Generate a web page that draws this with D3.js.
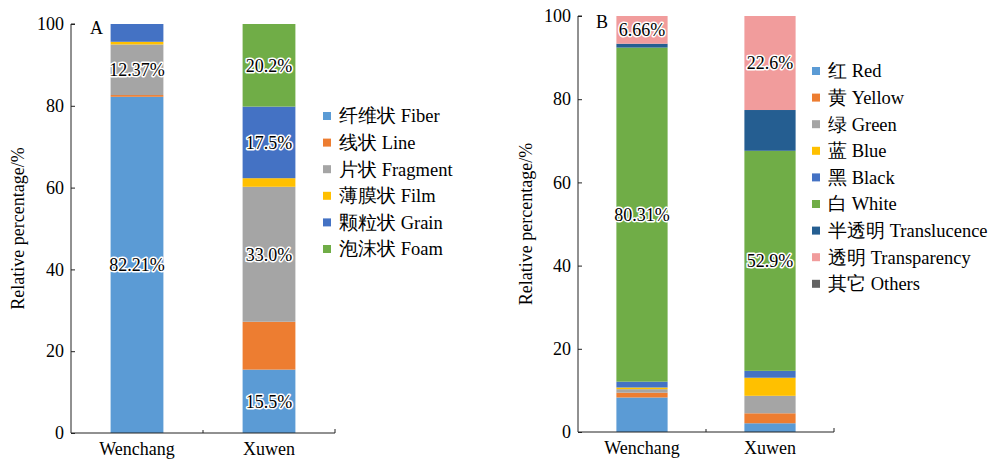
<!DOCTYPE html>
<html>
<head>
<meta charset="utf-8">
<script src="https://cdn.jsdelivr.net/npm/d3@7"></script>
<style>
  html, body { margin: 0; padding: 0; background: #fff; }
  svg { display: block; }
</style>
</head>
<body>
<svg id="chart" width="991" height="462"></svg>
<script>
// Sampling sites
const sites = ["Wenchang", "Xuwen"];

// Panel A: shape composition (%)
const shapeNames = ["纤维状 Fiber", "线状 Line", "片状 Fragment", "薄膜状 Film", "颗粒状 Grain", "泡沫状 Foam"];
const shapeWenchang = [82.21, 0.42, 12.37, 0.65, 4.35, 0];
const shapeXuwen    = [15.5, 11.7, 33.0, 2.1, 17.5, 20.2];
const shapeLabels = [
  [ "82.21%", null, "12.37%", null, null, null ],
  [ "15.5%", null, "33.0%", null, "17.5%", "20.2%" ]
];

// Panel B: colour composition (%)
const colourNames = ["红 Red", "黄 Yellow", "绿 Green", "蓝 Blue", "黑 Black", "白 White", "半透明 Translucence", "透明 Transparency", "其它 Others"];
const colourWenchang = [8.3, 1.15, 0.85, 0.4, 1.4, 80.31, 0.93, 6.66, 0];
const colourXuwen    = [2.1, 2.4, 4.2, 4.35, 1.65, 52.9, 9.8, 22.6, 0];
const colourLabels = [
  [null, null, null, null, null, "80.31%", null, "6.66%", null],
  [null, null, null, null, null, "52.9%", null, "22.6%", null]
];

const yTicks = [0, 20, 40, 60, 80, 100];

const shapeColors  = ["#5B9BD5", "#ED7D31", "#A5A5A5", "#FFC000", "#4472C4", "#70AD47"];
const colourColors = ["#5B9BD5", "#ED7D31", "#A5A5A5", "#FFC000", "#4472C4", "#70AD47", "#255E91", "#F19C9C", "#636363"];

const FONT = "'Liberation Serif', 'DejaVu Serif', serif";

const svg = d3.select("#chart").style("font-family", FONT);

function drawPanel(opts) {
  const { x0, x1, yBottom, yTop, names, colors, seriesBySite, labels, letter, letterPos, legendX, legendY, titleX } = opts;

  const x = d3.scaleBand().domain(sites).range([x0, x1]).paddingInner(0.6).paddingOuter(0.3);
  const y = d3.scaleLinear().domain([0, 100]).range([yBottom, yTop]);

  const g = svg.append("g");

  // stacked segments
  sites.forEach((site, si) => {
    const vals = seriesBySite[si];
    let acc = 0;
    vals.forEach((v, k) => {
      const lo = acc, hi = acc + v;
      acc = hi;
      if (v <= 0) return;
      g.append("rect")
        .attr("x", x(site))
        .attr("width", x.bandwidth())
        .attr("y", y(hi))
        .attr("height", y(lo) - y(hi))
        .attr("fill", colors[k]);
    });
    // value labels centred in their segments
    acc = 0;
    vals.forEach((v, k) => {
      const lo = acc, hi = acc + v;
      acc = hi;
      const lab = labels[si][k];
      if (!lab) return;
      g.append("text")
        .attr("x", x(site) + x.bandwidth() / 2)
        .attr("y", y((lo + hi) / 2))
        .attr("dy", "0.35em")
        .attr("text-anchor", "middle")
        .style("font-family", FONT)
        .style("font-size", "18px")
        .attr("fill", "#000")
        .attr("stroke", "#fff")
        .attr("stroke-width", 3)
        .attr("stroke-linejoin", "round")
        .attr("paint-order", "stroke")
        .text(lab);
    });
  });

  // y axis (ticks pointing inward)
  const yAxis = d3.axisRight(y).tickValues(yTicks).tickSize(4).tickFormat(d3.format("d"));
  const ya = g.append("g").attr("transform", `translate(${x0},0)`).call(yAxis);
  ya.attr("font-family", null).attr("font-size", null);
  ya.select(".domain").attr("stroke", "#222").attr("d", `M4,${yTop}H0V${yBottom}`);
  ya.selectAll(".tick line").attr("stroke", "#222");
  ya.selectAll(".tick text")
    .attr("x", -7)
    .attr("text-anchor", "end")
    .attr("fill", "#000")
    .style("font-family", FONT)
    .style("font-size", "18px");

  // x axis
  const xa = g.append("g").attr("transform", `translate(0,${yBottom})`)
    .call(d3.axisBottom(x).tickSize(0).tickPadding(9));
  xa.attr("font-family", null).attr("font-size", null);
  xa.select(".domain").attr("stroke", "#222").attr("d", `M${x0},0H${x1}V-4`);
  xa.selectAll(".tick text").attr("fill", "#000").style("font-family", FONT).style("font-size", "18px");
  // divider tick between the two categories
  const mid = (x(sites[0]) + x(sites[1]) + x.bandwidth()) / 2;
  xa.append("line").attr("x1", mid).attr("x2", mid).attr("y1", 0).attr("y2", -3).attr("stroke", "#222");

  // axis title
  g.append("text")
    .attr("transform", `translate(${titleX},${(yTop + yBottom) / 2}) rotate(-90)`)
    .attr("text-anchor", "middle")
    .style("font-family", FONT)
    .style("font-size", "18px")
    .text("Relative percentage/%");

  // panel letter
  g.append("text")
    .attr("x", letterPos[0]).attr("y", letterPos[1])
    .style("font-family", FONT)
    .style("font-size", "18px")
    .text(letter);

  // legend
  const lg = g.append("g").attr("transform", `translate(${legendX},${legendY})`);
  names.forEach((n, k) => {
    const row = lg.append("g").attr("transform", `translate(0,${k * 26.6})`);
    row.append("rect").attr("x", 0).attr("y", -4).attr("width", 8).attr("height", 8).attr("fill", colors[k]);
    row.append("text").attr("x", 16).attr("y", 0).attr("dy", "0.35em")
      .style("font-family", FONT)
      .style("font-size", "18.5px")
      .text(n);
  });
}

drawPanel({
  x0: 71, x1: 335, yBottom: 433, yTop: 24,
  names: shapeNames, colors: shapeColors,
  seriesBySite: [shapeWenchang, shapeXuwen], labels: shapeLabels,
  letter: "A", letterPos: [90, 34],
  legendX: 323, legendY: 116, titleX: 24
});

drawPanel({
  x0: 578, x1: 834, yBottom: 432, yTop: 16,
  names: colourNames, colors: colourColors,
  seriesBySite: [colourWenchang, colourXuwen], labels: colourLabels,
  letter: "B", letterPos: [596, 28],
  legendX: 812, legendY: 71, titleX: 532
});
</script>
</body>
</html>
